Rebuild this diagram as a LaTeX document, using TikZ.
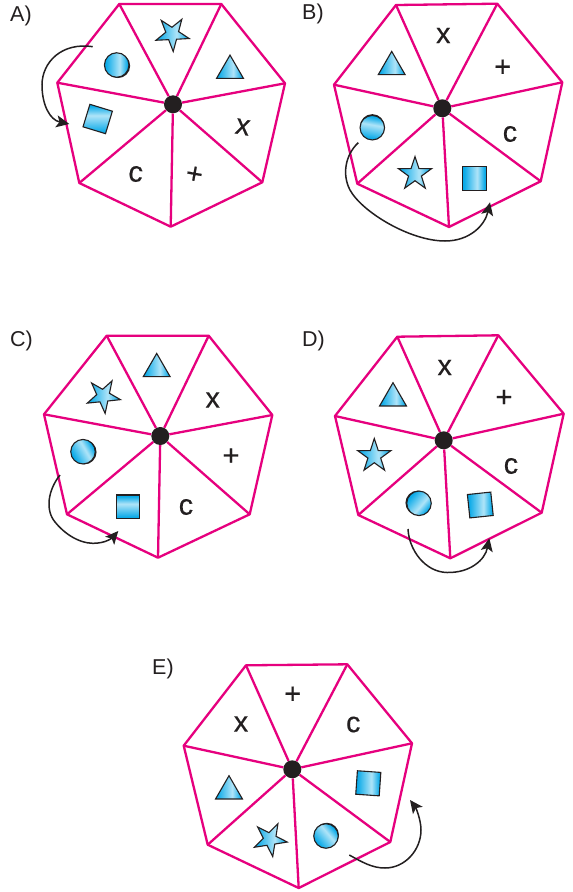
\documentclass[tikz,border=0pt]{standalone}
\usepackage{fontspec}
\setmainfont{Liberation Sans}
\newfontfamily\heavyface[FakeBold=0.35]{Liberation Sans}
\usetikzlibrary{arrows.meta,shapes.geometric,shadows}
\definecolor{pinkline}{HTML}{E6007E}
\definecolor{inkblack}{HTML}{231F20}
\definecolor{cyandeep}{RGB}{10,170,232}
\definecolor{cyanlight}{RGB}{175,228,248}
\pgfdeclarehorizontalshading{cyanbar}{100bp}{color(0bp)=(cyandeep); color(28bp)=(cyandeep); color(56bp)=(cyanlight); color(72bp)=(cyandeep); color(100bp)=(cyandeep)}
\tikzset{
  rim/.style={draw=pinkline,line width=2.3pt,line join=round},
  spoke/.style={draw=pinkline,line width=2.3pt},
  hub/.style={circle,fill=inkblack,minimum size=18pt,inner sep=0pt},
  motion/.style={draw=inkblack,line width=1.5pt,-{Stealth[length=13pt,width=12pt,inset=3pt]}},
  solid shape/.style={draw=inkblack,line width=1.1pt,shading=cyanbar,inner sep=0pt},
  sqbox/.style={solid shape,rectangle,minimum size=23.5pt},
  tribox/.style={solid shape,regular polygon,regular polygon sides=3,minimum size=31pt,yshift=-3.9pt},
  starbox/.style={solid shape,star,star points=5,star point ratio=2.6,minimum size=35pt},
  discbox/.style={solid shape,circle,minimum size=24.5pt},
  glyph/.style={inner sep=0pt,text=inkblack,font=\heavyface\fontsize{29}{29}\selectfont},
  tag/.style={inner sep=0pt,anchor=west,text=inkblack,font=\fontsize{21.5}{21.5}\selectfont},
}
% #1 prefix, #2 hub, #3..#9 outer vertices clockwise from top left
\newcommand{\wheelgraph}[9]{%
  \coordinate (#1-a) at #3; \coordinate (#1-b) at #4; \coordinate (#1-c) at #5;
  \coordinate (#1-d) at #6; \coordinate (#1-e) at #7; \coordinate (#1-f) at #8;
  \coordinate (#1-g) at #9;
  \node[hub] (#1-hub) at #2 {};
  \draw[rim] (#1-a)--(#1-b)--(#1-c)--(#1-d)--(#1-e)--(#1-f)--(#1-g)--cycle;
  \foreach \v in {a,b,c,d,e,f,g} \draw[spoke] (#1-\v)--(#1-hub);
}
\begin{document}
\begin{tikzpicture}[x=1pt,y=-1pt]
\fill[white] (0,0) rectangle (573,892);
\useasboundingbox (0,0) rectangle (573,892);

% A
\wheelgraph{A}{(173,104.3)}{(119.3,4)}{(221.3,4)}{(285,83.3)}{(262.3,182.3)}{(170.7,226.7)}{(79.3,183)}{(57.3,82.7)}
\node[tag] (A-tag) at (10,16) {A)};
\node[starbox,rotate=-33] (A-star) at (172.3,34) {};
\node[tribox] (A-tri) at (230,66.7) {};
\node[discbox,shading angle=0,general shadow={fill=inkblack,shadow xshift=1.2pt,shadow yshift=-0.8pt}] (A-disc) at (116.7,65) {};
\node[sqbox,rotate=-17,shading angle=90] (A-sq) at (97.7,119) {};
\node[glyph,rotate=-10] (A-x) at (242.7,127) {x};
\node[glyph,rotate=-10] (A-plus) at (194.3,175) {+};
\node[glyph,rotate=-5] (A-c) at (135.7,174) {c};
\coordinate (A-s) at (92.7,46.7); \coordinate (A-t) at (69.3,124);
\draw[motion] (A-s) .. controls (62,42) and (42,62) .. (42,85) .. controls (42,105) and (50,120) .. (A-t);

% B
\wheelgraph{B}{(442.3,108.3)}{(396,5)}{(497.3,3.7)}{(562.3,82.3)}{(540.7,181.3)}{(449,227)}{(357.3,183.7)}{(334,84.7)}
\node[tag] (B-tag) at (302,14) {B)};
\node[tribox] (B-tri) at (391.7,63) {};
\node[glyph] (B-x) at (443.3,35.5) {x};
\node[glyph] (B-plus) at (502.7,68) {+};
\node[glyph] (B-c) at (510,134) {c};
\node[sqbox] (B-sq) at (474.3,178.3) {};
\node[starbox] (B-star) at (415,174) {};
\node[discbox,shading angle=80,general shadow={fill=inkblack,shadow xshift=0pt,shadow yshift=1.3pt}] (B-disc) at (372.3,127.7) {};
\coordinate (B-s) at (358.3,142.7); \coordinate (B-t) at (490,202.3);
\draw[motion] (B-s) .. controls (345,155) and (342,175) .. (350,190) .. controls (362,212) and (410,241) .. (445,241) .. controls (470,241) and (485,225) .. (B-t);

% C
\wheelgraph{C}{(160.3,436)}{(106.7,335.7)}{(208.7,335.7)}{(272.3,415)}{(249.7,514.3)}{(158,557.7)}{(67,514.3)}{(44,414.3)}
\node[tag] (C-tag) at (10,341) {C)};
\node[tribox] (C-tri) at (156.7,365) {};
\node[glyph] (C-x) at (212.7,400) {x};
\node[glyph] (C-plus) at (231,456.7) {+};
\node[glyph] (C-c) at (186,507) {c};
\node[sqbox,shading angle=90] (C-sq) at (128,506.7) {};
\node[discbox,shading angle=30,general shadow={fill=inkblack,shadow xshift=1.3pt,shadow yshift=-0.4pt}] (C-disc) at (83,451.7) {};
\node[starbox,rotate=-30] (C-star) at (103.3,396) {};
\coordinate (C-s) at (60,475); \coordinate (C-t) at (118.3,531);
\draw[motion] (C-s) .. controls (48,490) and (45,510) .. (55,522) .. controls (68,538) and (85,545) .. (98,543) .. controls (108,542) and (113,537) .. (C-t);

% D
\wheelgraph{D}{(443.7,440.3)}{(397.3,336.7)}{(498.3,335.3)}{(563.7,413.7)}{(541.7,512.7)}{(450.3,558.3)}{(358.3,515)}{(335,416)}
\node[tag] (D-tag) at (302,341) {D)};
\node[tribox] (D-tri) at (393,394.3) {};
\node[glyph] (D-x) at (444.7,367.5) {x};
\node[glyph] (D-plus) at (504,398.3) {+};
\node[glyph] (D-c) at (511,466) {c};
\node[sqbox,rotate=6] (D-sq) at (480.3,505) {};
\node[discbox,shading angle=-40,general shadow={fill=inkblack,shadow xshift=-1.3pt,shadow yshift=0.4pt}] (D-disc) at (419,503.3) {};
\node[starbox] (D-star) at (374.3,456) {};
\coordinate (D-s) at (408,529); \coordinate (D-t) at (489.3,538.3);
\draw[motion] (D-s) .. controls (409,550) and (425,572) .. (447,572.5) .. controls (470,573) and (485,560) .. (D-t);

% E
\wheelgraph{E}{(292.3,769.3)}{(246,665.3)}{(347.3,664.3)}{(412,743.3)}{(390.3,842)}{(298.7,888)}{(207.7,844.7)}{(183.7,745.7)}
\node[tag] (E-tag) at (152,669) {E)};
\node[glyph] (E-x) at (241,724) {x};
\node[glyph] (E-plus) at (292.7,695) {+};
\node[glyph] (E-c) at (353.3,724.5) {c};
\node[sqbox,rotate=-4] (E-sq) at (368.3,783.3) {};
\node[discbox,shading angle=40,general shadow={fill=inkblack,shadow xshift=0.7pt,shadow yshift=1pt}] (E-disc) at (326,836) {};
\node[starbox,rotate=-27] (E-star) at (270,839.3) {};
\node[tribox] (E-tri) at (229,787.3) {};
\coordinate (E-s) at (349.3,855); \coordinate (E-t) at (410,800);
\draw[motion] (E-s) .. controls (362,862) and (372,868) .. (385,868) .. controls (405,868) and (421,850) .. (421,830) .. controls (421,820) and (416,808) .. (E-t);
\end{tikzpicture}
\end{document}
